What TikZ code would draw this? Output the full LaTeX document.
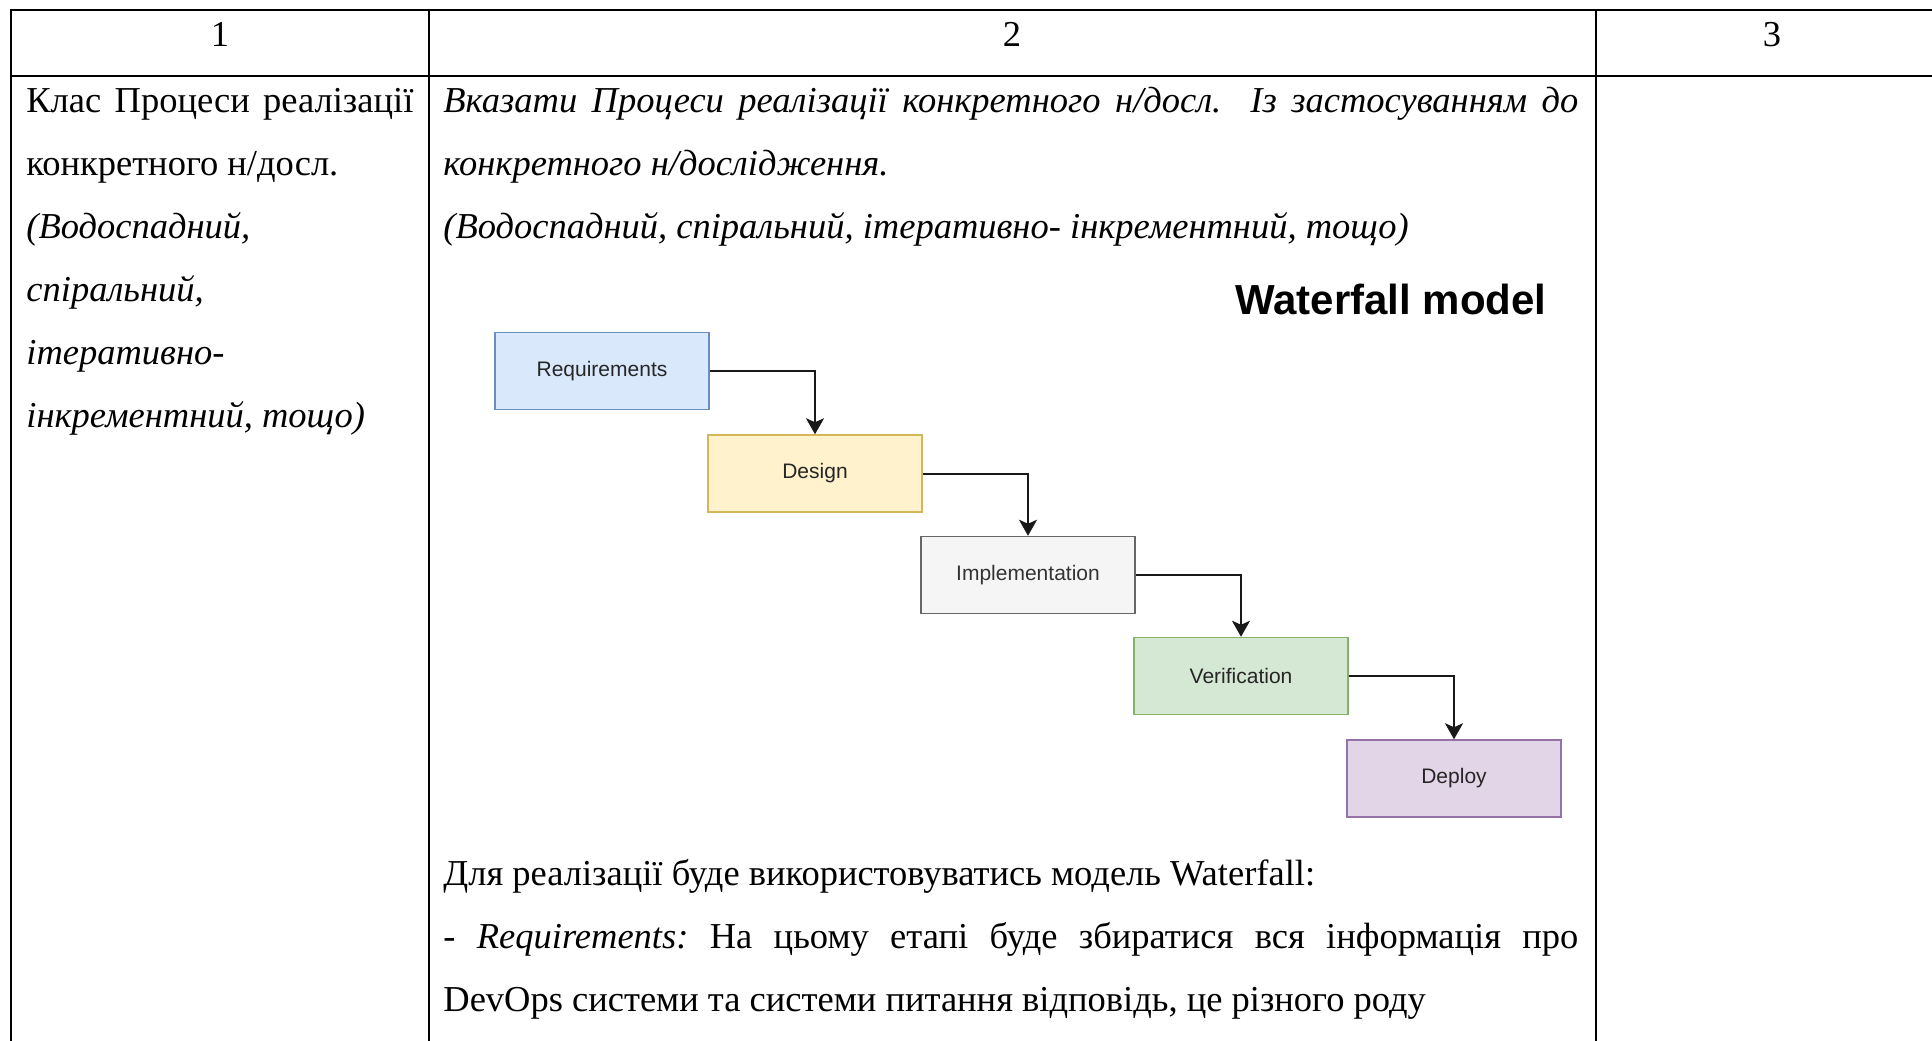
\documentclass[tikz,border=0pt]{standalone}
\usepackage{fontspec}
\setmainfont{Liberation Serif}
\setsansfont{Liberation Sans}
\usetikzlibrary{arrows.meta}

\definecolor{reqfill}{HTML}{DAE8FC}\definecolor{reqline}{HTML}{6C8EBF}
\definecolor{desfill}{HTML}{FFF2CC}\definecolor{desline}{HTML}{D6B656}
\definecolor{impfill}{HTML}{F5F5F5}\definecolor{impline}{HTML}{666666}
\definecolor{imptext}{HTML}{333333}
\definecolor{verfill}{HTML}{D5E8D4}\definecolor{verline}{HTML}{82B366}
\definecolor{depfill}{HTML}{E1D5E7}\definecolor{depline}{HTML}{9673A6}

\newcommand{\bodyfont}{\fontsize{18.25}{31.5}\selectfont}
\frenchspacing

\begin{document}
\begin{tikzpicture}[x=0.5pt,y=-0.5pt,
  cellline/.style={line width=1.3pt},
  head/.style={anchor=base, inner sep=0pt, font=\bodyfont},
  body/.style={anchor=base west, inner sep=0pt, font=\bodyfont},
  bodyit/.style={anchor=base west, inner sep=0pt, font=\bodyfont\itshape},
  stage/.style={draw, line width=0.75pt, minimum width=107pt, minimum height=38.5pt,
    inner sep=0pt, text=black!85, font=\sffamily\fontsize{10.5}{12}\selectfont},
  flow/.style={draw=black!90, line width=1pt,
    -{Stealth[length=8pt,width=9pt,inset=2pt]}}
]
\useasboundingbox (0,0) rectangle (1932,1040);
\fill[white] (0,0) rectangle (1932,1040);

% table rules
\draw[cellline] (11,1050) -- (11,10) -- (1945,10);
\draw[cellline] (11,76) -- (1945,76);
\draw[cellline] (429,10) -- (429,1050);
\draw[cellline] (1596,10) -- (1596,1050);

% header row
\node[head] (h1) at (220,46) {1};
\node[head] (h2) at (1012,46) {2};
\node[head] (h3) at (1772,46) {3};

% first column
\node[body] (a1) at (26,112) {\hbox to 193.5pt{Клас Процеси реалізації}};
\node[body] (a2) at (26,175) {конкретного н/досл.};
\node[bodyit] (a3) at (26,238) {(Водоспадний,};
\node[bodyit] (a4) at (26,301) {спіральний,};
\node[bodyit] (a5) at (26,364) {ітеративно-};
\node[bodyit] (a6) at (26,427) {інкрементний, тощо)};

% second column, heading text
\node[bodyit] (b1) at (443,112) {\hbox to 567.5pt{Вказати Процеси реалізації конкретного н/досл.~ Із застосуванням до}};
\node[bodyit] (b2) at (443,175) {конкретного н/дослідження.};
\node[bodyit] (b3) at (443,238) {(Водоспадний, спіральний, ітеративно- інкрементний, тощо)};

% waterfall diagram
\node[anchor=base east, inner sep=0pt, font=\sffamily\bfseries\fontsize{21}{24}\selectfont]
  (title) at (1547,314) {Waterfall model};

\node[stage, fill=reqfill, draw=reqline] (req) at (602,371) {Requirements};
\node[stage, fill=desfill, draw=desline] (des) at (815,473.5) {Design};
\node[stage, fill=impfill, draw=impline, text=imptext] (imp) at (1028,575) {Implementation};
\node[stage, fill=verfill, draw=verline] (ver) at (1241,676) {Verification};
\node[stage, fill=depfill, draw=depline] (dep) at (1454,778.5) {Deploy};

\draw[flow] (req.east) -| (des.north);
\draw[flow] (des.east) -| (imp.north);
\draw[flow] (imp.east) -| (ver.north);
\draw[flow] (ver.east) -| (dep.north);

% second column, description
\node[body] (c1) at (443,885) {Для реалізації буде використовуватись модель Waterfall:};
\node[body] (c2) at (443,948) {\hbox to 567.5pt{- \textit{Requirements:} На цьому етапі буде збиратися вся інформація про}};
\node[body] (c3) at (443,1011) {DevOps системи та системи питання відповідь, це різного роду};
\end{tikzpicture}
\end{document}
